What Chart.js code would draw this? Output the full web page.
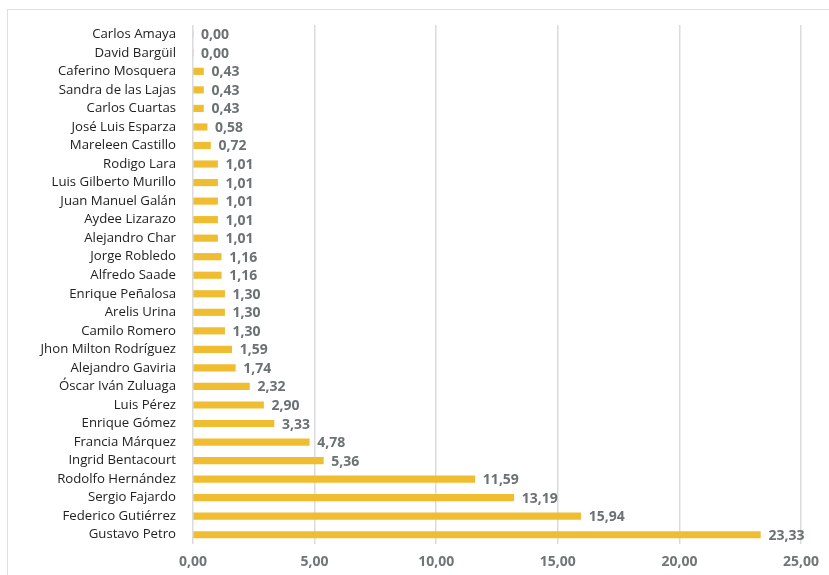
<!DOCTYPE html>
<html>
<head>
<meta charset="utf-8">
<script src="https://cdn.jsdelivr.net/npm/chart.js@4/dist/chart.umd.min.js"></script>
<style>
  html, body { margin: 0; padding: 0; background: #fff; }
  #marco { position: absolute; left: 7px; top: 9px; width: 840px; height: 600px; border: 1px solid #e0e0e0; }
  #wrap { position: absolute; left: 0; top: 0; width: 829px; height: 575px; }
</style>
</head>
<body>
<div id="marco"></div>
<div id="wrap"><canvas id="grafico" width="829" height="575"></canvas></div>
<script>
var candidatos = [
    'Carlos Amaya', 'David Bargüil', 'Caferino Mosquera', 'Sandra de las Lajas', 'Carlos Cuartas',
    'José Luis Esparza', 'Mareleen Castillo', 'Rodigo Lara', 'Luis Gilberto Murillo', 'Juan Manuel Galán',
    'Aydee Lizarazo', 'Alejandro Char', 'Jorge Robledo', 'Alfredo Saade', 'Enrique Peñalosa',
    'Arelis Urina', 'Camilo Romero', 'Jhon Milton Rodríguez', 'Alejandro Gaviria', 'Óscar Iván Zuluaga',
    'Luis Pérez', 'Enrique Gómez', 'Francia Márquez', 'Ingrid Bentacourt', 'Rodolfo Hernández',
    'Sergio Fajardo', 'Federico Gutiérrez', 'Gustavo Petro'
];
var porcentajes = [
    0.00, 0.00, 0.43, 0.43, 0.43,
    0.58, 0.72, 1.01, 1.01, 1.01,
    1.01, 1.01, 1.16, 1.16, 1.30,
    1.30, 1.30, 1.59, 1.74, 2.32,
    2.90, 3.33, 4.78, 5.36, 11.59,
    13.19, 15.94, 23.33
];
var ejeValores = [0, 5, 10, 15, 20, 25];

function formato(v) {
    return v.toFixed(2).replace('.', ',');
}

// etiqueta con el valor al final de cada barra
var etiquetasValor = {
    id: 'etiquetasValor',
    afterDatasetsDraw: function (chart) {
        var ctx = chart.ctx;
        var meta = chart.getDatasetMeta(0);
        ctx.save();
        ctx.font = 'bold 14px "Open Sans", sans-serif';
        ctx.fillStyle = '#6c7174';
        ctx.textAlign = 'left';
        ctx.textBaseline = 'middle';
        meta.data.forEach(function (bar, i) {
            ctx.fillText(formato(porcentajes[i]), bar.x + 8, bar.y + 1);
        });
        ctx.restore();
    }
};

var ctx = document.getElementById('grafico').getContext('2d');
var _grafico = new Chart(ctx, {
    type: 'bar',
    data: {
        labels: candidatos,
        datasets: [{
            data: porcentajes,
            backgroundColor: '#f0bd31',
            borderWidth: 0,
            barThickness: 6.5
        }]
    },
    options: {
        indexAxis: 'y',
        responsive: false,
        animation: false,
        layout: { padding: { top: 25, right: 26, bottom: 0, left: 0 } },
        plugins: {
            legend: { display: false },
            tooltip: { enabled: false }
        },
        scales: {
            x: {
                min: 0,
                max: 25,
                afterBuildTicks: function (axis) {
                    axis.ticks = ejeValores.map(function (v) { return { value: v }; });
                },
                grid: { color: '#dadcdc', lineWidth: 1.5, drawTicks: false },
                border: { display: false },
                ticks: {
                    padding: 10,
                    color: '#707577',
                    font: { family: '"Open Sans", sans-serif', size: 14, weight: 'bold' },
                    callback: function (v) { return formato(v); }
                },
                afterFit: function (axis) { axis.height = 31; }
            },
            y: {
                grid: { display: false },
                border: { display: false },
                ticks: {
                    autoSkip: false,
                    padding: 9,
                    color: '#222',
                    font: { family: '"Open Sans", sans-serif', size: 13.2 }
                },
                afterFit: function (axis) { axis.width = 193; }
            }
        }
    },
    plugins: [etiquetasValor]
});
</script>
</body>
</html>
